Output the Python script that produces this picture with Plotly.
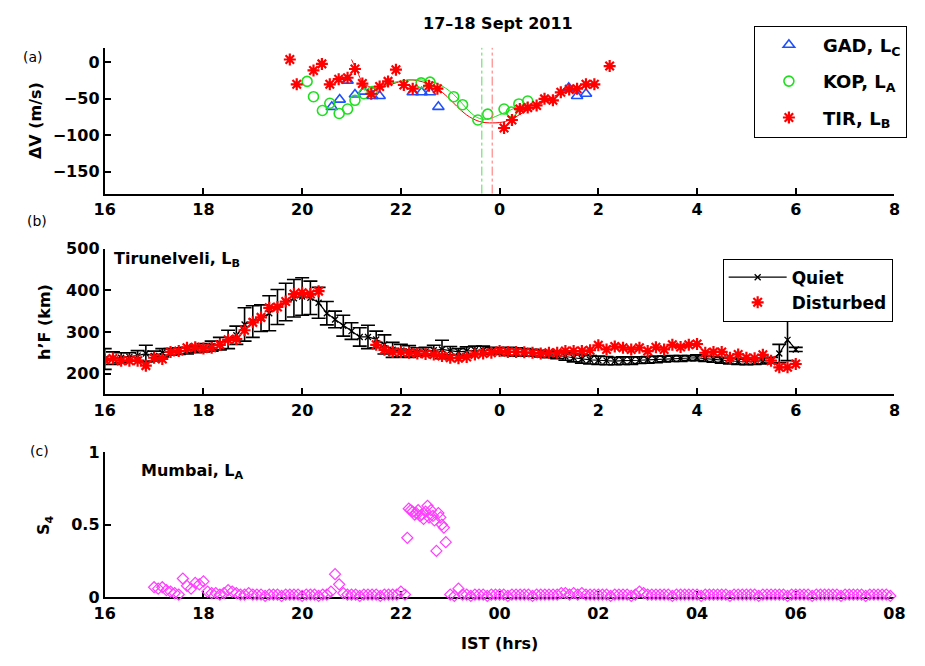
import plotly.graph_objects as go

# ---------------- Panel (a): Doppler velocity differences ----------------
# time in hours IST, continuing past midnight (24 -> 00, 26 -> 02 ...)
gad_time = [20.60, 20.76, 20.92, 21.07, 21.25, 21.42, 21.57, 22.24, 22.42, 22.59, 22.76,
            25.40, 25.57, 25.75]
gad_dv = [-61, -51, -25, -44, -40, -46, -46, -41, -41, -41, -61,
          -35, -46, -43]

kop_time = [20.10, 20.23, 20.41, 20.56, 20.75, 20.92, 21.07, 21.25, 21.42, 22.41, 22.59,
            23.07, 23.25, 23.56, 23.76, 24.09, 24.24, 24.39, 24.57]
kop_dv = [-26, -47, -66, -56, -70, -64, -52, -43, -40, -28, -27,
          -47, -58, -79, -71, -64, -68, -57, -53]

tir_time = [19.75, 19.89, 20.23, 20.40, 20.56, 20.74, 20.92, 21.07, 21.22, 21.40, 21.57,
            21.74, 21.90, 22.06, 22.24, 22.57, 22.74,
            24.09, 24.25, 24.41, 24.57, 24.75, 24.91, 25.08, 25.24, 25.41, 25.57, 25.75,
            25.92, 26.23]
tir_dv = [4, -30, -11, -2, -30, -23, -21, -9, -29, -43, -33,
          -26, -10, -31, -36, -32, -36,
          -90, -79, -64, -62, -59, -50, -52, -41, -37, -36, -30,
          -30, -5]

# smooth fitted curves
tir_fit_time = [21.00, 21.12, 21.22, 21.35, 21.55, 21.75, 21.95, 22.15, 22.34, 22.54,
                22.74, 22.94, 23.13, 23.33, 23.59, 23.86, 24.12, 24.32, 24.52, 24.85,
                25.18, 25.51, 25.84, 25.95]
tir_fit_dv = [4, -13, -27, -33, -36, -31, -27, -24, -25, -29,
              -36, -47, -60, -72, -81, -83, -81, -75, -67, -56,
              -44, -37, -32, -30]
kop_fit_time = [21.25, 21.42, 21.70, 21.95, 22.20, 22.41, 22.60, 22.74, 22.90, 23.07,
                23.25, 23.40, 23.56, 23.70, 23.85, 23.99, 24.20, 24.39, 24.58]
kop_fit_dv = [-38, -36, -30, -26, -24, -24, -26, -29, -35, -44,
              -57, -68, -76, -78, -76, -72, -66, -60, -55]

kop_min_time = 23.64
tir_min_time = 23.85

# ---------------- Panel (b): Tirunelveli h'F ----------------
hf_step = 1.0 / 6.0
hf_time = [16 + k * hf_step for k in range(85)]
quiet_hf = [235, 237, 238, 240, 243, 248, 242, 250, 252, 254, 255, 258,
            262, 266, 272, 282, 292, 318, 325, 333, 345, 360, 372, 381,
            385, 382, 370, 345, 330, 315, 302, 288, 288, 282, 270, 257,
            255, 253, 252, 253, 256, 258, 255, 252, 254, 256, 256, 255,
            254, 253, 252, 251, 250, 248, 246, 244, 241, 238, 235, 233,
            232, 231, 230, 231, 231, 232, 233, 234, 235, 236, 236, 237,
            238, 236, 234, 232, 230, 229, 228, 229, 230, 232, 248, 281, 258]
quiet_err = [25, 15, 12, 10, 12, 20, 12, 10, 8, 8, 8, 8,
             10, 12, 15, 22, 22, 40, 38, 32, 42, 42, 45, 45,
             45, 40, 37, 28, 20, 25, 20, 22, 28, 20, 23, 18,
             15, 14, 10, 10, 12, 22, 10, 8, 10, 10, 10, 8,
             8, 10, 10, 9, 8, 8, 8, 8, 9, 10, 10, 10,
             10, 10, 9, 9, 9, 8, 8, 8, 7, 7, 7, 6,
             7, 7, 7, 7, 7, 7, 7, 7, 7, 7, 22, 50, 5]
disturbed_hf = [233, 236, 231, 231, 231, 219, 238, 235, 252, 254, 262, 263,
                260, 262, 269, 281, 283, 304, 323, 335, 358, 360, 373, 391,
                394, 391, 398, None, None, None, None, None, None, 269, 257, 252,
                251, 250, 248, 247, 246, 242, 238, 237, 240, 246, 248, 250,
                254, 252, 252, 251, 250, 248, 250, 250, 254, 254, 254, 256,
                268, 258, 265, 262, 258, 262, 254, 263, 258, 269, 264, 269,
                271, 250, 252, 252, 238, 246, 238, 237, 245, 231, 215, 215, 223]

# ---------------- Panel (c): Mumbai S4 ----------------
s4_step = 1.0 / 12.0
s4_evening = [0.07, 0.06, 0.07, 0.05, 0.04, 0.03, 0.02, 0.13, 0.08, 0.06, 0.10, 0.09,
              0.11, 0.04, 0.03, 0.03, 0.02, 0.03, 0.05, 0.04, 0.03, 0.02, 0.02, 0.03,
              0.02, 0.02, 0.02, 0.01, 0.02, 0.02, 0.02, 0.01, 0.02, 0.02, 0.02, 0.02,
              0.01, 0.02, 0.02, 0.02, 0.01, 0.02, 0.02, 0.04, 0.16, 0.09, 0.03, 0.02,
              0.02, 0.02, 0.01, 0.02, 0.02, 0.02, 0.02, 0.01, 0.02, 0.02, 0.02, 0.02,
              0.04, 0.02]
s4_evening_time = [17.0 + k * s4_step for k in range(len(s4_evening))]

s4_burst_time = [22.13, 22.16, 22.20, 22.24, 22.28, 22.31, 22.35, 22.39, 22.42, 22.46,
                 22.50, 22.54, 22.57, 22.61, 22.65, 22.68, 22.72, 22.76, 22.80, 22.83,
                 22.87, 22.91]
s4_burst = [0.41, 0.61, 0.60, 0.59, 0.57, 0.58, 0.60, 0.56, 0.57, 0.54,
            0.59, 0.63, 0.55, 0.60, 0.56, 0.53, 0.32, 0.58, 0.55, 0.50,
            0.48, 0.38]

s4_night = [0.02, 0.01, 0.06, 0.02, 0.02, 0.01, 0.02, 0.02, 0.02, 0.01, 0.02, 0.02,
            0.02, 0.02, 0.01, 0.02, 0.02, 0.02, 0.02, 0.02, 0.01, 0.02, 0.02, 0.02,
            0.02, 0.02, 0.02, 0.03, 0.03, 0.02, 0.03, 0.02, 0.03, 0.02, 0.02, 0.02,
            0.02, 0.02, 0.02, 0.01, 0.02, 0.02, 0.02, 0.02, 0.01, 0.02, 0.04, 0.03,
            0.02, 0.02, 0.02, 0.02, 0.02, 0.02, 0.01, 0.02, 0.02, 0.02, 0.02, 0.02,
            0.02, 0.01, 0.02, 0.02, 0.02, 0.02, 0.02, 0.02, 0.01, 0.02, 0.02, 0.02,
            0.02, 0.02, 0.02, 0.01, 0.02, 0.02, 0.02, 0.02, 0.02, 0.02, 0.01, 0.02,
            0.02, 0.02, 0.02, 0.02, 0.01, 0.02, 0.02, 0.02, 0.02, 0.02, 0.02, 0.01,
            0.02, 0.02, 0.02, 0.02, 0.02, 0.01, 0.02, 0.02, 0.02, 0.02, 0.02, 0.01]
s4_night_time = [23.0 + k * s4_step for k in range(len(s4_night))]

# tick labels
x_ticks = [16, 18, 20, 22, 24, 26, 28, 30, 32]
x_labels_ab = ["16", "18", "20", "22", "0", "2", "4", "6", "8"]
x_labels_c = ["16", "18", "20", "22", "00", "02", "04", "06", "08"]

# ---------------- styling ----------------
W, H = 925, 666
FONT = "DejaVu Sans"
BLUE = "#1e50ff"
GREEN = "#1fe01f"
RED = "#ff0000"
MAGENTA = "#ff3cff"


def fx(p):
    return p / W


def fy(p):
    return 1 - p / H


fig = go.Figure()

# panel (a)
fig.add_trace(go.Scatter(x=tir_fit_time, y=tir_fit_dv, mode="lines", line=dict(color=RED, width=1, shape="spline"),
                         showlegend=False, xaxis="x", yaxis="y"))
fig.add_trace(go.Scatter(x=kop_fit_time, y=kop_fit_dv, mode="lines", line=dict(color=GREEN, width=1, shape="spline"),
                         showlegend=False, xaxis="x", yaxis="y"))
fig.add_trace(go.Scatter(x=gad_time, y=gad_dv, mode="markers", name="GAD, L<sub>C</sub>",
                         marker=dict(symbol="triangle-up-open", size=10, color=BLUE, line=dict(width=1.6, color=BLUE)),
                         xaxis="x", yaxis="y", legend="legend", legendgroup="g"))
fig.add_trace(go.Scatter(x=kop_time, y=kop_dv, mode="markers", name="KOP, L<sub>A</sub>",
                         marker=dict(symbol="circle-open", size=10, color=GREEN, line=dict(width=1.6, color=GREEN)),
                         xaxis="x", yaxis="y", legend="legend", legendgroup="k"))
fig.add_trace(go.Scatter(x=tir_time, y=tir_dv, mode="markers", name="TIR, L<sub>B</sub>",
                         marker=dict(symbol="asterisk-open", size=10, color=RED, line=dict(width=2.2, color=RED)),
                         xaxis="x", yaxis="y", legend="legend", legendgroup="t"))

# panel (b)
fig.add_trace(go.Scatter(x=hf_time, y=quiet_hf, mode="lines+markers", name="Quiet",
                         line=dict(color="black", width=1.2),
                         marker=dict(symbol="x-thin-open", size=6, color="black", line=dict(width=1.3, color="black")),
                         error_y=dict(type="data", array=quiet_err, visible=True, color="black", thickness=1.6, width=7),
                         xaxis="x2", yaxis="y2", legend="legend2", legendgroup="q"))
fig.add_trace(go.Scatter(x=hf_time, y=disturbed_hf, mode="markers", name="Disturbed",
                         marker=dict(symbol="asterisk-open", size=10, color=RED, line=dict(width=2.2, color=RED)),
                         xaxis="x2", yaxis="y2", legend="legend2", legendgroup="d"))

# panel (c): all S4 samples in one trace
s4_time = s4_evening_time + s4_burst_time + s4_night_time
s4_value = s4_evening + s4_burst + s4_night
fig.add_trace(go.Scatter(x=s4_time, y=s4_value, mode="markers", showlegend=False, cliponaxis=False,
                         marker=dict(symbol="diamond-open", size=8.5, color=MAGENTA,
                                     line=dict(width=1.2, color=MAGENTA)),
                         xaxis="x3", yaxis="y3"))

tick_font = dict(family=FONT, size=16, color="black", weight="bold")
common_x = dict(range=[16, 32], tickvals=x_ticks, ticks="inside", ticklen=6, tickwidth=1.5,
                tickcolor="black", showline=True, linewidth=2, linecolor="black", showgrid=False,
                zeroline=False, tickfont=tick_font, domain=[fx(96), fx(905)])
common_y = dict(ticks="inside", ticklen=6, tickwidth=1.5, tickcolor="black", showline=True,
                linewidth=2, linecolor="black", showgrid=False, zeroline=False, tickfont=tick_font)

fig.update_layout(
    width=W, height=H, margin=dict(l=0, r=0, t=0, b=0, pad=0), autosize=False,
    paper_bgcolor="white", plot_bgcolor="white",
    xaxis=dict(common_x, anchor="y", ticktext=x_labels_ab),
    yaxis=dict(common_y, anchor="x", range=[-180, 20], tickvals=[-150, -100, -50, 0],
               domain=[fy(190), fy(40)]),
    xaxis2=dict(common_x, anchor="y2", ticktext=x_labels_ab),
    yaxis2=dict(common_y, anchor="x2", range=[150, 500], tickvals=[200, 300, 400, 500],
                domain=[fy(396.7), fy(246.7)]),
    xaxis3=dict(common_x, anchor="y3", ticktext=x_labels_c, layer="below traces"),
    yaxis3=dict(common_y, anchor="x3", range=[0, 1], tickvals=[0, 0.5, 1], ticktext=["0", "0.5", "1"],
                domain=[fy(605.7), fy(456)]),
    legend=dict(x=fx(761), y=fy(17), xanchor="left", yanchor="top", bgcolor="white",
                bordercolor="black", borderwidth=1, traceorder="grouped", tracegroupgap=10,
                itemwidth=58,
                font=dict(family=FONT, size=18, color="black", weight="bold")),
    legend2=dict(x=fx(729), y=fy(257), xanchor="left", yanchor="top", bgcolor="white",
                 bordercolor="black", borderwidth=1, traceorder="grouped", tracegroupgap=0,
                 itemwidth=58,
                 font=dict(family=FONT, size=17, color="black", weight="bold")),
)

# dash-dot markers of the velocity minima
fig.add_shape(type="line", xref="x", yref="y domain", x0=kop_min_time, x1=kop_min_time, y0=0, y1=1,
              line=dict(color="#55dd55", width=1, dash="dashdot"))
fig.add_shape(type="line", xref="x", yref="y domain", x0=tir_min_time, x1=tir_min_time, y0=0, y1=1,
              line=dict(color="#ff7070", width=1, dash="dashdot"))

bold = dict(family=FONT, size=16, color="black", weight="bold")
plain = dict(family=FONT, size=14, color="black")
notes = [
    ("17\u201318 Sept 2011", 499, 15, bold, 0),
    ("(a)", 23, 49, plain, 0),
    ("(b)", 27, 218, plain, 0),
    ("(c)", 29, 455, plain, 0),
    ("\u0394V (m/s)", 25, 115, bold, -90),
    ("h\u2019F (km)", 35, 322, bold, -90),
    ("S<sub>4</sub>", 35, 531, bold, -90),
    ("IST (hrs)", 500, 653, bold, 0),
]
for text, px, py, font, ang in notes:
    fig.add_annotation(text=text, x=fx(px), y=fy(py), xref="paper", yref="paper", showarrow=False,
                       xanchor="center", yanchor="middle", font=font, textangle=ang)

fig.add_annotation(text="Tirunelveli, L<sub>B</sub>", x=fx(103), y=fy(258), xref="paper", yref="paper",
                   showarrow=False, xanchor="left", yanchor="middle", font=bold)
fig.add_annotation(text="Mumbai, L<sub>A</sub>", x=fx(131), y=fy(476), xref="paper", yref="paper",
                   showarrow=False, xanchor="left", yanchor="middle", font=bold)

fig.write_html("out.html", config={"responsive": False, "displayModeBar": False})
